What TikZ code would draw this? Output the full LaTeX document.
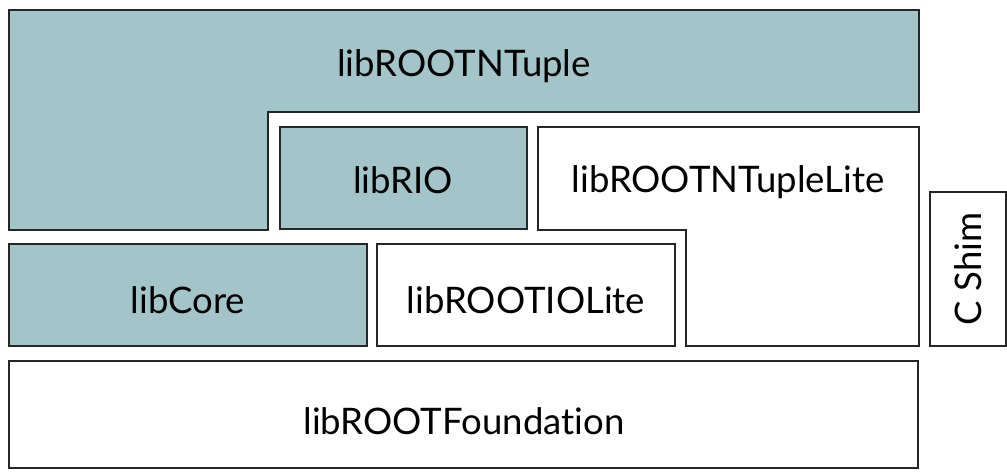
\documentclass[tikz,border=0pt]{standalone}
\usepackage{fontspec}
\setmainfont[Ligatures=NoCommon]{Lato}
\definecolor{rootfill}{RGB}{163,196,200}
\tikzset{
  layer/.style={draw=black!85, line width=1.1pt, line join=miter},
  rootlib/.style={layer, fill=rootfill},
  litelib/.style={layer, fill=white},
  libname/.style={font=\fontsize{20.8}{25}\selectfont, inner sep=0pt}
}
\begin{document}
\begin{tikzpicture}[x=0.02cm, y=-0.02cm]
    \useasboundingbox (0,0) rectangle (1007,476);

    % ~~~~ ROOT ~~~~ %
    \draw[rootlib] (9,10) -- (919,10) -- (919,112) -- (268,112)
        -- (268,230) -- (9,230) -- cycle;
    \node[libname] (ntuple) at (464,66) {libROOTNTuple};

    \draw[rootlib] (280,127) rectangle (527,229);
    \node[libname] (rio) at (403,180) {libRIO};

    \draw[rootlib] (9,244) rectangle (367,346);
    \node[libname] (core) at (188,300) {libCore};

    % ~~~~ Lite ~~~~ %
    \draw[litelib] (538,127) -- (919,127) -- (919,346) -- (686,346)
        -- (686,230) -- (538,230) -- cycle;
    \node[libname] (ntuplelite) at (728,182) {libROOTNTupleLite};

    \draw[litelib] (377,244) rectangle (675,346);
    \node[libname] (iolite) at (526,300) {libROOTIOLite};

    % ~~~~ Base ~~~~ %
    \draw[litelib] (9,361) rectangle (918,468);
    \node[libname] (foundation) at (464,421) {libROOTFoundation};

    \draw[litelib] (930,192) rectangle (1006,346);
    \node[libname, rotate=90] (cshim) at (968,269) {C Shim};
\end{tikzpicture}
\end{document}
